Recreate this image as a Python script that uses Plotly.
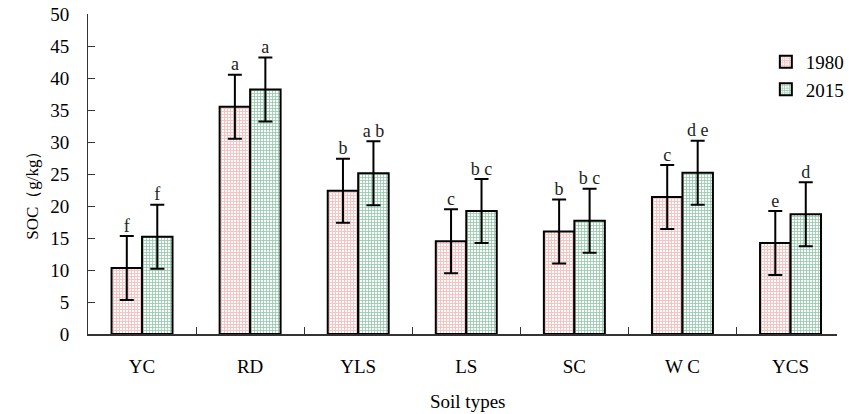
import plotly.graph_objects as go

categories = ["YC", "RD", "YLS", "LS", "SC", "W C", "YCS"]
soc_1980 = [10.3, 35.5, 22.4, 14.5, 16.0, 21.4, 14.2]
soc_2015 = [15.2, 38.2, 25.1, 19.2, 17.7, 25.2, 18.7]
err_1980 = [5, 5, 5, 5, 5, 5, 5]
err_2015 = [5, 5, 5, 5, 5, 5, 5]
sig_1980 = ["f", "a", "b", "c", "b", "c", "e"]
sig_2015 = ["f", "a", "a b", "b c", "b c", "d e", "d"]
yticks = [0, 5, 10, 15, 20, 25, 30, 35, 40, 45, 50]

FONT = "Liberation Serif, Times New Roman, serif"
xs = list(range(len(categories)))
bargap = 0.436
half = (1 - bargap) / 4  # center offset of each bar within a group

fig = go.Figure()
fig.add_trace(go.Bar(
    x=xs, y=soc_1980, name="1980",
    marker=dict(color="white", line=dict(color="black", width=2),
                pattern=dict(shape="+", fgcolor="#f08585", size=3, solidity=0.55)),
    error_y=dict(type="data", array=err_1980, color="black", thickness=2, width=7),
))
fig.add_trace(go.Bar(
    x=xs, y=soc_2015, name="2015",
    marker=dict(color="white", line=dict(color="black", width=2),
                pattern=dict(shape="+", fgcolor="#1f9152", size=3, solidity=0.45)),
    error_y=dict(type="data", array=err_2015, color="black", thickness=2, width=7),
))
fig.add_trace(go.Scatter(
    x=[x - half for x in xs], y=[v + e for v, e in zip(soc_1980, err_1980)],
    mode="text", text=sig_1980, textposition="top center",
    textfont=dict(family=FONT, size=18, color="#222"), showlegend=False,
    hoverinfo="skip", cliponaxis=False,
))
fig.add_trace(go.Scatter(
    x=[x + half for x in xs], y=[v + e for v, e in zip(soc_2015, err_2015)],
    mode="text", text=sig_2015, textposition="top center",
    textfont=dict(family=FONT, size=18, color="#222"), showlegend=False,
    hoverinfo="skip", cliponaxis=False,
))

xrange = [-0.5, 6.43]
fig.update_layout(
    width=849, height=414,
    margin=dict(l=88, r=0, t=14, b=80),
    paper_bgcolor="white", plot_bgcolor="white",
    barmode="group", bargap=bargap, bargroupgap=0,
    font=dict(family=FONT, size=18, color="black"),
    xaxis=dict(range=xrange, tickvals=xs, ticktext=categories, ticks="",
               showline=True, linecolor="#333", linewidth=2, showgrid=False,
               zeroline=False, ticklabelstandoff=14, tickfont=dict(size=19)),
    xaxis2=dict(range=xrange, overlaying="x", side="bottom", anchor="y",
                tickvals=[x + 0.5 for x in xs[:-1]], showticklabels=False,
                ticks="inside", ticklen=7, tickwidth=1, tickcolor="#333",
                showgrid=False, zeroline=False, showline=False),
    yaxis=dict(range=[0, 50], tickvals=yticks, ticks="inside", ticklen=7,
               tickwidth=1, tickcolor="#333", showline=True, linecolor="#333",
               linewidth=1, showgrid=False, zeroline=False,
               ticklabelstandoff=14, tickfont=dict(size=19)),
    legend=dict(x=0.905, y=0.91, xanchor="left", yanchor="top",
                font=dict(family=FONT, size=19), bgcolor="rgba(0,0,0,0)",
                itemwidth=30, tracegroupgap=4),
    annotations=[
        dict(text="SOC（g/kg）", xref="paper", yref="paper", x=-0.089, y=0.447,
             textangle=-90, showarrow=False, font=dict(family=FONT, size=17)),
        dict(text="Soil types", xref="paper", yref="paper", x=0.507, y=-0.25,
             showarrow=False, font=dict(family=FONT, size=19)),
    ],
)
# invisible trace to activate xaxis2 ticks
fig.add_trace(go.Scatter(x=[0], y=[0], xaxis="x2", mode="markers",
                         marker=dict(opacity=0), showlegend=False, hoverinfo="skip"))

fig.write_html("out.html")
